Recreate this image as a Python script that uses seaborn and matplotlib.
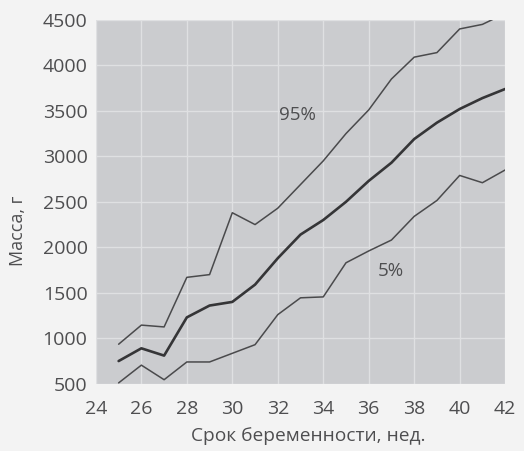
import matplotlib
matplotlib.use("Agg")
import matplotlib.pyplot as plt
import seaborn as sns
import pandas as pd

# недели беременности и масса плода (г)
weeks = [25, 26, 27, 28, 29, 30, 31, 32, 33, 34, 35, 36, 37, 38, 39, 40, 41, 42]
p95 = [935, 1145, 1125, 1670, 1700, 2380, 2250, 2430, 2690, 2950, 3250, 3510,
       3850, 4090, 4140, 4400, 4450, 4570]
p50 = [750, 890, 810, 1230, 1360, 1400, 1590, 1880, 2140, 2300, 2500, 2730,
       2930, 3190, 3370, 3520, 3640, 3740]
p5 = [510, 705, 545, 740, 740, 835, 930, 1260, 1445, 1455, 1830, 1960,
      2080, 2340, 2515, 2790, 2710, 2850]

yticks = [500, 1000, 1500, 2000, 2500, 3000, 3500, 4000, 4500]
xticks = [24, 26, 28, 30, 32, 34, 36, 38, 40, 42]

df = pd.DataFrame({"week": weeks, "p95": p95, "p50": p50, "p5": p5})

sns.set_style("whitegrid", {"axes.facecolor": "#cbcccf", "grid.color": "#dfe0e2",
                            "axes.edgecolor": "#cbcccf"})
plt.rcParams["font.family"] = ["Open Sans", "DejaVu Sans"]

fig = plt.figure(figsize=(5.24, 4.51), dpi=100)
fig.patch.set_facecolor("#f3f3f3")
ax = fig.add_axes([0.183, 0.149, 0.781, 0.807])

sns.lineplot(data=df, x="week", y="p95", ax=ax, color="#4a4a4c", linewidth=1.1)
sns.lineplot(data=df, x="week", y="p50", ax=ax, color="#353537", linewidth=1.9)
sns.lineplot(data=df, x="week", y="p5", ax=ax, color="#4a4a4c", linewidth=1.1)

ax.set_xlim(24, 42)
ax.set_ylim(500, 4500)
ax.set_xticks(xticks)
ax.set_yticks(yticks)
ax.grid(True, linewidth=1.0)
for s in ax.spines.values():
    s.set_visible(False)
ax.tick_params(axis="both", length=0, labelsize=14, colors="#4e4e50")
ax.tick_params(axis="x", pad=12)
ax.tick_params(axis="y", pad=6)

ax.text(32.85, 3450, "95%", fontsize=13.5, color="#4e4e50", ha="center", va="center")
ax.text(36.97, 1740, "5%", fontsize=13.5, color="#4e4e50", ha="center", va="center")

ax.set_xlabel("Срок беременности, нед.", fontsize=13.8, color="#4e4e50")
ax.set_ylabel("Масса, г", fontsize=13, color="#4e4e50")
ax.xaxis.set_label_coords(0.518, -0.12)
ax.yaxis.set_label_coords(-0.168, 0.42)

fig.savefig("out.png", dpi=100, facecolor=fig.get_facecolor())
